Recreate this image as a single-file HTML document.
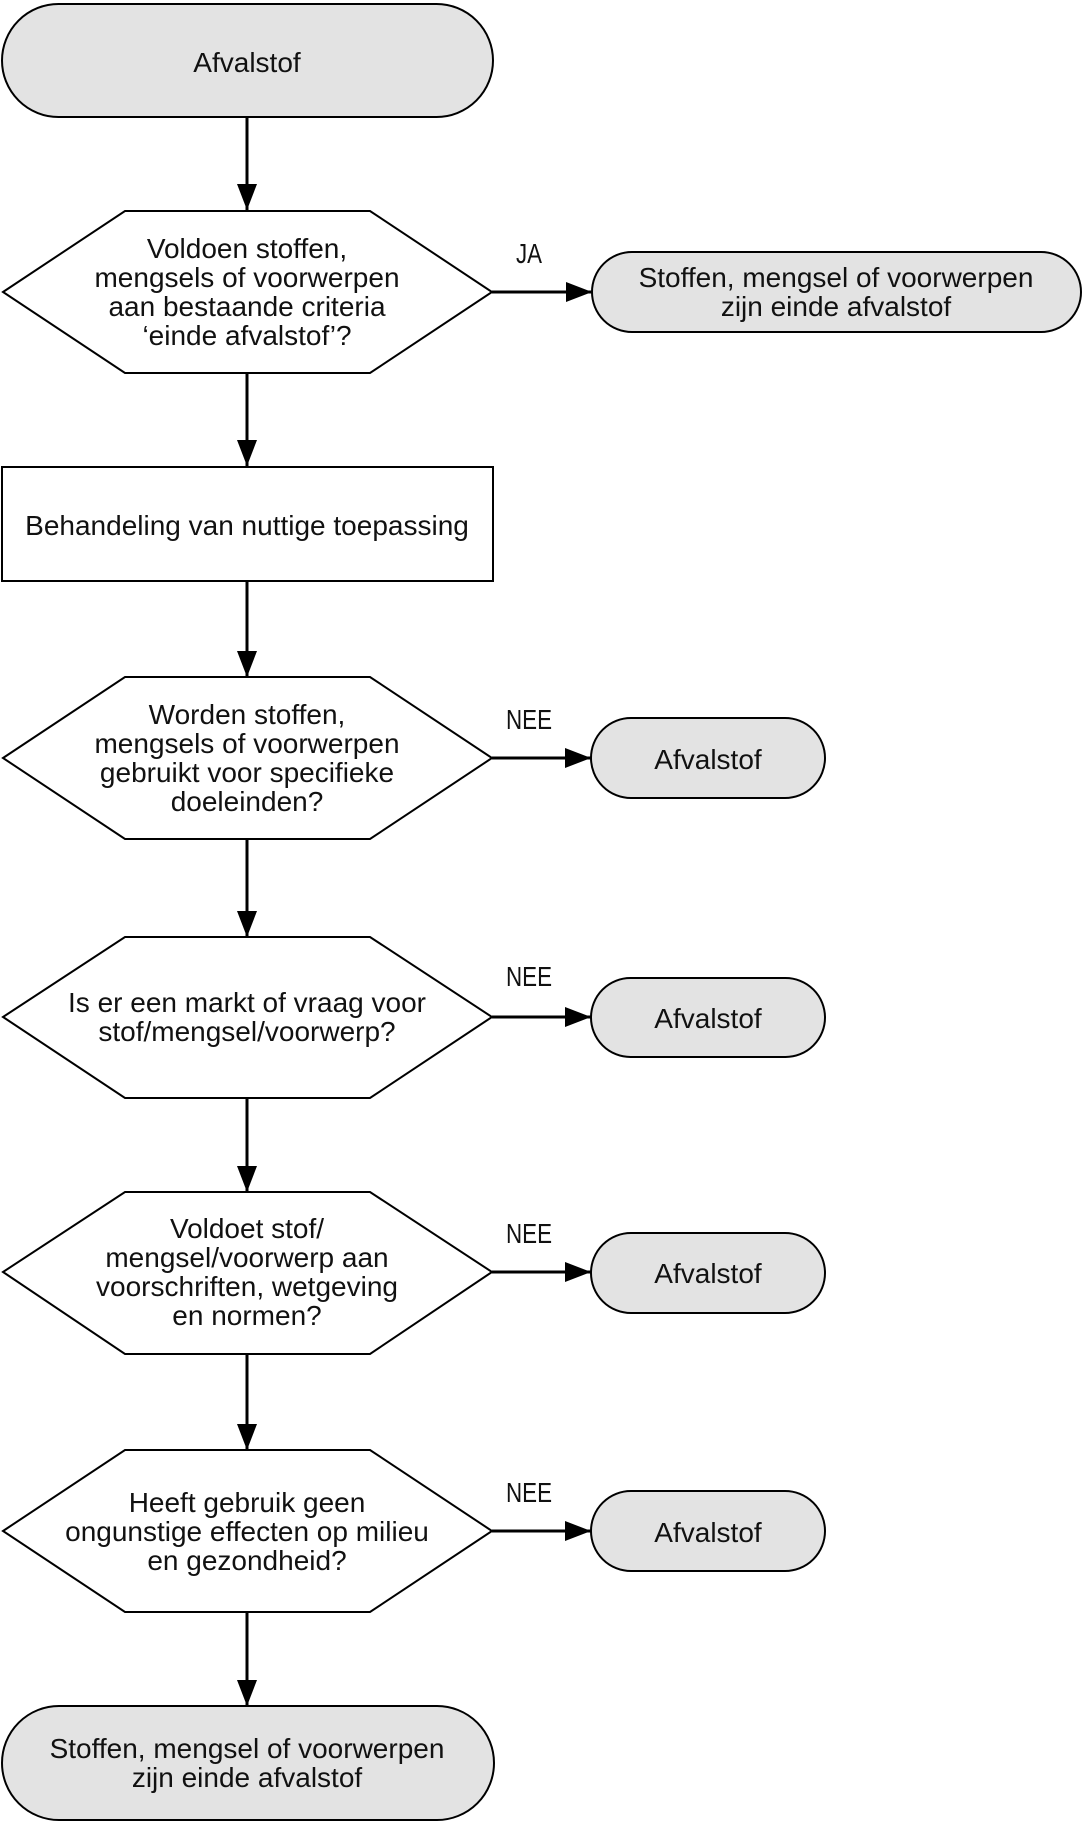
<!DOCTYPE html>
<html>
<head>
<meta charset="utf-8">
<style>
html,body{margin:0;padding:0;background:#fff;}
svg{display:block;}
text{font-family:"Liberation Sans",sans-serif;font-size:28px;fill:#111;}
</style>
</head>
<body>
<svg width="1086" height="1824" viewBox="0 0 1086 1824" xmlns="http://www.w3.org/2000/svg">
<defs>
<marker id="ah" viewBox="0 0 26 20" refX="26" refY="10" markerWidth="26" markerHeight="20" markerUnits="userSpaceOnUse" orient="auto">
<path d="M0,0 L26,10 L0,20 Z" fill="#000"/>
</marker>
</defs>
<g stroke="#000" stroke-width="3" fill="none">
<line x1="247" y1="117" x2="247" y2="210" marker-end="url(#ah)"/>
<line x1="247" y1="373" x2="247" y2="466" marker-end="url(#ah)"/>
<line x1="247" y1="581" x2="247" y2="677" marker-end="url(#ah)"/>
<line x1="247" y1="839" x2="247" y2="937" marker-end="url(#ah)"/>
<line x1="247" y1="1099" x2="247" y2="1192" marker-end="url(#ah)"/>
<line x1="247" y1="1354" x2="247" y2="1450" marker-end="url(#ah)"/>
<line x1="247" y1="1612" x2="247" y2="1706" marker-end="url(#ah)"/>
<line x1="492" y1="292" x2="592" y2="292" marker-end="url(#ah)"/>
<line x1="492" y1="758" x2="591" y2="758" marker-end="url(#ah)"/>
<line x1="492" y1="1017" x2="591" y2="1017" marker-end="url(#ah)"/>
<line x1="492" y1="1272" x2="591" y2="1272" marker-end="url(#ah)"/>
<line x1="492" y1="1531" x2="591" y2="1531" marker-end="url(#ah)"/>
</g>
<g stroke="#000" stroke-width="2">
<rect x="2" y="4" width="491" height="113" rx="56.5" ry="56.5" fill="#e3e3e3"/>
<polygon points="3,292 125,211 370,211 492,292 370,373 125,373" fill="#fff"/>
<rect x="592" y="252" width="489" height="80" rx="40" ry="40" fill="#e3e3e3"/>
<rect x="2" y="467" width="491" height="114" fill="#fff"/>
<polygon points="3,758 125,677 370,677 492,758 370,839 125,839" fill="#fff"/>
<rect x="591" y="718" width="234" height="80" rx="40" ry="40" fill="#e3e3e3"/>
<polygon points="3,1017 125,937 370,937 492,1017 370,1098 125,1098" fill="#fff"/>
<rect x="591" y="978" width="234" height="79" rx="39.5" ry="39.5" fill="#e3e3e3"/>
<polygon points="3,1272 125,1192 370,1192 492,1272 370,1354 125,1354" fill="#fff"/>
<rect x="591" y="1233" width="234" height="80" rx="40" ry="40" fill="#e3e3e3"/>
<polygon points="3,1531 125,1450 370,1450 492,1531 370,1612 125,1612" fill="#fff"/>
<rect x="591" y="1491" width="234" height="80" rx="40" ry="40" fill="#e3e3e3"/>
<rect x="2" y="1706" width="492" height="114" rx="57" ry="57" fill="#e3e3e3"/>
</g>
<g text-anchor="middle">
<text x="247" y="72">Afvalstof</text>
<text x="247" y="258">Voldoen stoffen,</text>
<text x="247" y="287">mengsels of voorwerpen</text>
<text x="247" y="316">aan bestaande criteria</text>
<text x="247" y="345">‘einde afvalstof’?</text>
<text x="836" y="287">Stoffen, mengsel of voorwerpen</text>
<text x="836" y="316">zijn einde afvalstof</text>
<text x="247" y="535">Behandeling van nuttige toepassing</text>
<text x="247" y="724">Worden stoffen,</text>
<text x="247" y="753">mengsels of voorwerpen</text>
<text x="247" y="782">gebruikt voor specifieke</text>
<text x="247" y="811">doeleinden?</text>
<text x="708" y="769">Afvalstof</text>
<text x="247" y="1012">Is er een markt of vraag voor</text>
<text x="247" y="1041">stof/mengsel/voorwerp?</text>
<text x="708" y="1028">Afvalstof</text>
<text x="247" y="1238">Voldoet stof/</text>
<text x="247" y="1267">mengsel/voorwerp aan</text>
<text x="247" y="1296">voorschriften, wetgeving</text>
<text x="247" y="1325">en normen?</text>
<text x="708" y="1283">Afvalstof</text>
<text x="247" y="1512">Heeft gebruik geen</text>
<text x="247" y="1541">ongunstige effecten op milieu</text>
<text x="247" y="1570">en gezondheid?</text>
<text x="708" y="1542">Afvalstof</text>
<text x="247" y="1758">Stoffen, mengsel of voorwerpen</text>
<text x="247" y="1787">zijn einde afvalstof</text>
</g>
<g>
<text x="516" y="263" textLength="26" lengthAdjust="spacingAndGlyphs">JA</text>
<text x="506" y="729" textLength="46" lengthAdjust="spacingAndGlyphs">NEE</text>
<text x="506" y="986" textLength="46" lengthAdjust="spacingAndGlyphs">NEE</text>
<text x="506" y="1243" textLength="46" lengthAdjust="spacingAndGlyphs">NEE</text>
<text x="506" y="1502" textLength="46" lengthAdjust="spacingAndGlyphs">NEE</text>
</g>
</svg>
</body>
</html>
